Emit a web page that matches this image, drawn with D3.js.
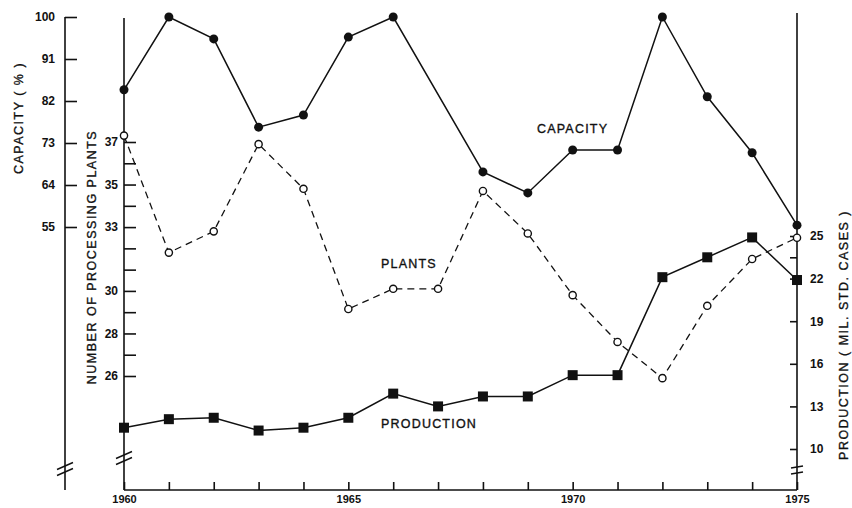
<!DOCTYPE html>
<html>
<head>
<meta charset="utf-8">
<script src="https://cdn.jsdelivr.net/npm/d3@7"></script>
<style>
  html, body { margin: 0; padding: 0; background: #fff; }
  svg { display: block; }
  text { font-family: "Liberation Sans", Arial, sans-serif; fill: #111; }
  .tick text { font-weight: bold; font-size: 12px; }
  .xaxis .tick text { font-size: 11px; }
  .title { font-size: 12.5px; letter-spacing: 1.5px; stroke: #111; stroke-width: 0.35px; }
  .anno { font-size: 12.5px; letter-spacing: 1.2px; stroke: #111; stroke-width: 0.35px; }
</style>
</head>
<body>
<svg id="chart" width="852" height="508"></svg>
<script>
// ---- data ----
const years = [1960, 1961, 1962, 1963, 1964, 1965, 1966, 1967, 1968, 1969, 1970, 1971, 1972, 1973, 1974, 1975];
const capacity = [84.4, 100, 95.3, 76.4, 79.0, 95.7, 100, null, 66.8, 62.3, 71.5, 71.5, 100, 82.9, 70.9, 55.4];
const plants = [37.3, 31.8, 32.8, 36.9, 34.8, 29.15, 30.1, 30.1, 34.7, 32.7, 29.8, 27.6, 25.9, 29.3, 31.5, 32.5];
const production = [11.5, 12.1, 12.2, 11.3, 11.5, 12.2, 13.9, 13.0, 13.7, 13.7, 15.2, 15.2, 22.1, 23.5, 24.9, 21.9];

const capacityTicks = [55, 64, 73, 82, 91, 100];
const plantsTicks = [26, 27, 28, 29, 30, 31, 32, 33, 34, 35, 36, 37];
const plantsLabels = [26, 28, 30, 33, 35, 37];
const productionTicks = [10, 13, 16, 19, 22, 23.5, 25];
const productionLabels = [10, 13, 16, 19, 22, 25];
const yearLabels = [1960, 1965, 1970, 1975];

// ---- layout ----
const svg = d3.select("#chart");
const ink = "#111";
const xAxisY = 490;
const capX = 65, plantsX = 124, prodX = 797;

const x = d3.scaleLinear().domain([1960, 1975]).range([plantsX, prodX]);
const yCap = d3.scaleLinear().domain([55, 100]).range([227, 17]);
const yPlants = d3.scaleLinear().domain([26, 37]).range([376, 142]);
const yProd = d3.scaleLinear().domain([10, 25]).range([449, 236]);

// ---- axes ----
const gCap = svg.append("g").attr("transform", `translate(${capX},0)`)
  .call(d3.axisLeft(yCap).tickValues(capacityTicks).tickSizeInner(-12).tickSizeOuter(0).tickPadding(10));
gCap.select(".domain").remove();
gCap.append("line").attr("x1", 0).attr("x2", 0).attr("y1", 17).attr("y2", xAxisY)
  .attr("stroke", ink).attr("stroke-width", 1.6);

const gPl = svg.append("g").attr("transform", `translate(${plantsX},0)`)
  .call(d3.axisLeft(yPlants).tickValues(plantsTicks).tickSizeInner(-12).tickSizeOuter(0).tickPadding(6)
    .tickFormat(d => plantsLabels.includes(d) ? d : ""));
gPl.select(".domain").remove();
gPl.append("line").attr("x1", 0).attr("x2", 0).attr("y1", 18).attr("y2", xAxisY)
  .attr("stroke", ink).attr("stroke-width", 1.6);

const gPr = svg.append("g").attr("transform", `translate(${prodX},0)`)
  .call(d3.axisRight(yProd).tickValues(productionTicks).tickSizeInner(-7).tickSizeOuter(0).tickPadding(13)
    .tickFormat(d => productionLabels.includes(d) ? d : ""));
gPr.select(".domain").remove();
gPr.append("line").attr("x1", 0).attr("x2", 0).attr("y1", 13).attr("y2", xAxisY)
  .attr("stroke", ink).attr("stroke-width", 1.6);

const gX = svg.append("g").attr("class", "xaxis").attr("transform", `translate(0,${xAxisY})`)
  .call(d3.axisBottom(x).tickValues(years).tickSizeInner(-8).tickSizeOuter(0).tickPadding(5)
    .tickFormat(d => yearLabels.includes(d) ? d : ""));
gX.select(".domain").remove();
gX.append("line").attr("x1", plantsX).attr("x2", prodX).attr("y1", 0).attr("y2", 0)
  .attr("stroke", ink).attr("stroke-width", 1.6);

svg.selectAll(".tick line").attr("stroke", ink).attr("stroke-width", 1.6);
svg.selectAll(".tick text").attr("fill", ink);

// axis break marks
function breakMark(cx, cy, w, slope) {
  [-3, 3].forEach(off => {
    svg.append("line")
      .attr("x1", cx - w / 2).attr("y1", cy + off + slope)
      .attr("x2", cx + w / 2).attr("y2", cy + off - slope)
      .attr("stroke", ink).attr("stroke-width", 1.4);
  });
}
breakMark(capX, 469, 16, 3.5);
breakMark(plantsX, 458, 16, 3.5);
breakMark(prodX, 470, 12, 1);

// ---- titles ----
function vTitle(cx, cy, txt) {
  svg.append("text").attr("class", "title")
    .attr("transform", `translate(${cx},${cy}) rotate(-90)`)
    .attr("text-anchor", "middle").attr("dominant-baseline", "central")
    .text(txt);
}
vTitle(19, 118, "CAPACITY ( % )");
vTitle(92, 257, "NUMBER OF PROCESSING PLANTS");
vTitle(844, 335, "PRODUCTION ( MIL. STD. CASES )");

// ---- series ----
const capData = years.map((yr, i) => ({ yr, v: capacity[i] })).filter(d => d.v !== null);
const plData = years.map((yr, i) => ({ yr, v: plants[i] }));
const prData = years.map((yr, i) => ({ yr, v: production[i] }));

const lineCap = d3.line().x(d => x(d.yr)).y(d => yCap(d.v));
const linePl = d3.line().x(d => x(d.yr)).y(d => yPlants(d.v));
const linePr = d3.line().x(d => x(d.yr)).y(d => yProd(d.v));

svg.append("path").datum(capData).attr("d", lineCap)
  .attr("fill", "none").attr("stroke", ink).attr("stroke-width", 1.5);
svg.append("path").datum(prData).attr("d", linePr)
  .attr("fill", "none").attr("stroke", ink).attr("stroke-width", 1.5);
svg.append("path").datum(plData).attr("d", linePl)
  .attr("fill", "none").attr("stroke", ink).attr("stroke-width", 1.3)
  .attr("stroke-dasharray", "7,5");

svg.append("g").selectAll("circle").data(capData).join("circle")
  .attr("cx", d => x(d.yr)).attr("cy", d => yCap(d.v)).attr("r", 4.5)
  .attr("fill", ink);
svg.append("g").selectAll("rect").data(prData).join("rect")
  .attr("x", d => x(d.yr) - 5).attr("y", d => yProd(d.v) - 5)
  .attr("width", 10).attr("height", 10).attr("fill", ink);
svg.append("g").selectAll("circle").data(plData).join("circle")
  .attr("cx", d => x(d.yr)).attr("cy", d => yPlants(d.v)).attr("r", 3.6)
  .attr("fill", "#fff").attr("stroke", ink).attr("stroke-width", 1.4);

// ---- annotations ----
svg.append("text").attr("class", "anno").attr("x", 537).attr("y", 133).text("CAPACITY");
svg.append("text").attr("class", "anno").attr("x", 381).attr("y", 268).text("PLANTS");
svg.append("text").attr("class", "anno").attr("x", 381).attr("y", 428).text("PRODUCTION");
</script>
</body>
</html>
